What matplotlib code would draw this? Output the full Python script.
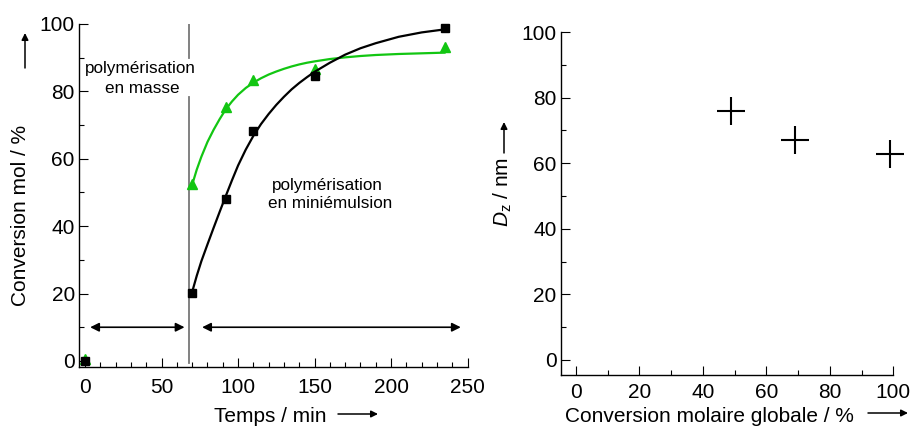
import matplotlib
matplotlib.use("Agg")
import matplotlib.pyplot as plt
from matplotlib.ticker import MultipleLocator

plt.rcParams['font.family'] = ['Liberation Sans', 'DejaVu Sans']
plt.rcParams['mathtext.fontset'] = 'custom'
plt.rcParams['mathtext.rm'] = 'Liberation Sans'
plt.rcParams['mathtext.it'] = 'Liberation Sans:italic'

# ---- data: left panel (conversion vs time) ----
time_pts = [0, 70, 92, 110, 150, 235]
black_pts = [0, 20.3, 48, 68.2, 84.6, 98.8]
green_pts = [0.6, 52.5, 75.3, 83.4, 86.6, 93.2]

curve_time = [70, 73, 76, 80, 84, 88, 92, 96, 100, 105, 110, 115, 120, 125, 130, 135, 140,
              145, 150, 160, 170, 180, 190, 205, 220, 235]
black_curve = [20.5, 25.3, 29.6, 34.6, 39.5, 44.3, 49.0, 53.6, 58.0, 62.7, 66.8, 70.3, 73.3,
               76.0, 78.4, 80.6, 82.5, 84.2, 85.8, 88.5, 90.9, 92.8, 94.3, 96.2, 97.5, 98.4]
green_curve = [52.3, 56.8, 60.6, 65.0, 68.6, 71.8, 74.7, 77.0, 79.0, 81.0, 82.6, 83.9, 85.0,
               85.9, 86.7, 87.4, 88.0, 88.5, 88.9, 89.6, 90.1, 90.5, 90.8, 91.1, 91.3, 91.5]

separator_time = 68

# ---- data: right panel (Dz vs global conversion) ----
conv_global = [49, 69, 99]
dz_nm = [75.8, 67.0, 62.8]

W, H = 914, 428
fig = plt.figure(figsize=(W / 100, H / 100), dpi=100)

FS = 15
green = '#12c612'

def style(ax):
    for s in ('top', 'right'):
        ax.spines[s].set_visible(False)
    for s in ('left', 'bottom'):
        ax.spines[s].set_linewidth(1.0)
    ax.tick_params(which='major', direction='in', length=6.5, width=0.8,
                   labelsize=FS, pad=3)
    ax.tick_params(which='minor', direction='in', length=3.6, width=0.8)
    ax.tick_params(axis='x', which='major', pad=8)

# ---------------- left axes ----------------
axL = fig.add_axes([79 / W, 1 - 367 / H, 388.5 / W, 343 / H])
axL.set_xlim(-4, 250)
axL.set_ylim(-1.8, 100)
style(axL)
axL.xaxis.set_major_locator(MultipleLocator(50))
axL.xaxis.set_minor_locator(MultipleLocator(10))
axL.yaxis.set_major_locator(MultipleLocator(20))
axL.yaxis.set_minor_locator(MultipleLocator(10))

# separator line with gap for the label
axL.plot([separator_time, separator_time], [-0.6, 78.3], color='#777777', lw=1.3, zorder=1)
axL.plot([separator_time, separator_time], [89.9, 100], color='#777777', lw=1.3, zorder=1)

axL.plot(curve_time, green_curve, color=green, lw=1.6, zorder=2)
axL.plot(time_pts, green_pts, linestyle='none', marker='^', color=green,
         markersize=7.5, zorder=3, clip_on=False)
axL.plot(curve_time, black_curve, color='black', lw=1.6, zorder=4)
axL.plot(time_pts, black_pts, linestyle='none', marker='s', color='black',
         markersize=6, zorder=5, clip_on=False)

# double arrows
arrow_kw = dict(arrowstyle='<|-|>', color='black', lw=1.2, mutation_scale=13,
                shrinkA=0, shrinkB=0)
axL.annotate('', xy=(3.3, 10), xytext=(65, 10), arrowprops=arrow_kw)
axL.annotate('', xy=(76.5, 10), xytext=(245.6, 10), arrowprops=arrow_kw)

TFS = 12.3
axL.text(36.3, 85.5, 'polymérisation', ha='center', va='baseline', fontsize=TFS)
axL.text(37.5, 79.6, 'en masse', ha='center', va='baseline', fontsize=TFS)
axL.text(158.5, 50.7, 'polymérisation', ha='center', va='baseline', fontsize=TFS)
axL.text(160, 45.3, 'en miniémulsion', ha='center', va='baseline', fontsize=TFS)

# ---------------- right axes ----------------
axR = fig.add_axes([560.7 / W, 1 - 375 / H, 332.6 / W, 343 / H])
axR.set_xlim(-4.8, 100)
axR.set_ylim(-4.6, 100)
style(axR)
axR.xaxis.set_major_locator(MultipleLocator(20))
axR.xaxis.set_minor_locator(MultipleLocator(10))
axR.yaxis.set_major_locator(MultipleLocator(20))
axR.yaxis.set_minor_locator(MultipleLocator(10))
axR.tick_params(axis='x', which='major', pad=6)

axR.plot(conv_global, dz_nm, linestyle='none', marker='+', color='black',
         markersize=20, markeredgewidth=1.5, clip_on=False)

# ---------------- axis labels (figure pixel coords) ----------------
def fx(px):
    return px / W

def fy(py_top):
    return 1 - py_top / H

fig.text(fx(270.5), fy(421.7), 'Temps / min', ha='center', va='baseline', fontsize=FS)
fig.text(fx(709.5), fy(421.7), 'Conversion molaire globale / %', ha='center',
         va='baseline', fontsize=FS)
fig.text(fx(21), fy(215.5), 'Conversion mol / %', ha='center', va='center',
         rotation=90, fontsize=FS)
fig.text(fx(502.5), fy(192), r'$\mathit{D}_\mathrm{z}$ / nm', ha='center', va='center',
         rotation=90, fontsize=FS)

lab_arrow = dict(arrowstyle='-|>', color='black', lw=1.1, mutation_scale=10,
                 shrinkA=0, shrinkB=0)
def farrow(x0, y0, x1, y1):
    fig.add_artist(matplotlib.patches.FancyArrowPatch(
        (fx(x0), fy(y0)), (fx(x1), fy(y1)), transform=fig.transFigure, **lab_arrow))

farrow(338, 414, 378, 414)
farrow(868, 413, 908, 413)
farrow(25, 68, 25, 33)
farrow(504, 153, 504, 122)

fig.savefig('out.png', dpi=100)
